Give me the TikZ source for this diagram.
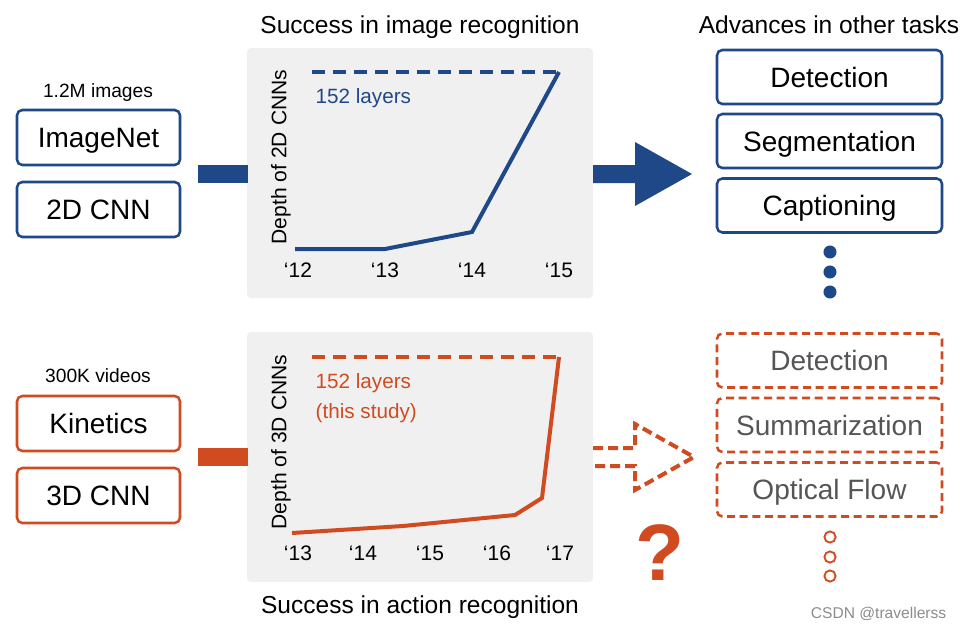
\documentclass[tikz,border=0pt]{standalone}
\usepackage{fontspec}
\setmainfont{Liberation Sans}
\definecolor{cblue}{RGB}{31,72,136}
\definecolor{corange}{RGB}{208,75,32}
\definecolor{panelgray}{RGB}{240,240,240}
\definecolor{graytext}{RGB}{85,85,85}
\begin{document}
\begin{tikzpicture}[x=0.75pt,y=-0.75pt,
  box/.style={draw, line width=1.9pt, rounded corners=4pt, minimum width=122.25pt, minimum height=41.25pt, inner sep=0pt, text height=15pt, text depth=0pt, font=\fontsize{21}{21}\selectfont},
  bluebox/.style={box, draw=cblue},
  orangebox/.style={box, draw=corange},
  taskbox/.style={box, draw=cblue, minimum width=168.75pt, minimum height=40.5pt},
  dtaskbox/.style={box, draw=corange, dash pattern=on 6pt off 3.5pt, text=graytext, minimum width=168.75pt, minimum height=40.5pt},
  panel/.style={fill=panelgray, rounded corners=3pt, minimum width=259.5pt, minimum height=187.5pt, inner sep=0pt},
  title/.style={anchor=base, font=\fontsize{18.4}{18.4}\selectfont},
  small/.style={anchor=base, font=\fontsize{14.4}{14.4}\selectfont},
  tick/.style={anchor=base, font=\fontsize{15.75}{15.75}\selectfont},
  lab/.style={anchor=base west, font=\fontsize{15.5}{15.5}\selectfont},
  ylab/.style={rotate=90, font=\fontsize{15.8}{15.8}\selectfont},
  curve/.style={line width=3pt, line join=miter},
  dline/.style={line width=3pt, dash pattern=on 9.75pt off 6pt}
]
\useasboundingbox (0,0) rectangle (967,629);

% panels
\node[panel] (p1) at (420,173) {};
\node[panel] (p2) at (420,457) {};

% titles
\node[title] (t1) at (420,33) {Success in image recognition};
\node[title] (t2) at (420,613) {Success in action recognition};
\node[title] (t3) at (829,33) {Advances in other tasks};

% left boxes
\node[small] (s1) at (98,97) {1.2M images};
\node[bluebox] (imagenet) at (98.5,137.5) {ImageNet};
\node[bluebox] (cnn2d) at (98.5,209.5) {2D CNN};
\node[small] (s2) at (98,382) {300K videos};
\node[orangebox] (kinetics) at (98.5,423.5) {Kinetics};
\node[orangebox] (cnn3d) at (98.5,495.5) {3D CNN};

% bars
\fill[cblue] (198,165) rectangle (248,183);
\fill[corange] (198,448) rectangle (248,466);

% chart 1
\draw[cblue, dline] (312,72) -- (560,72);
\draw[cblue, curve] (295,249) -- (385,249) -- (472,232) -- (559,72);
\node[lab, text=cblue] (l1) at (311,103) {152 layers};
\node[ylab] (y1) at (281,157) {Depth of 2D CNNs};
\node[tick] at (298,277) {‘12};
\node[tick] at (385,277) {‘13};
\node[tick] at (472,277) {‘14};
\node[tick] at (559,277) {‘15};

% chart 2
\draw[corange, dline] (312,357) -- (560,357);
\draw[corange, curve] (292,533) -- (403,526) -- (515,515) -- (542,498) -- (559,357);
\node[lab, text=corange] (l2) at (311,388) {152 layers};
\node[lab, text=corange] (l3) at (311,418) {(this study)};
\node[ylab] (y2) at (281,442) {Depth of 3D CNNs};
\node[tick] at (298,560) {‘13};
\node[tick] at (363,560) {‘14};
\node[tick] at (430,560) {‘15};
\node[tick] at (497,560) {‘16};
\node[tick] at (560,560) {‘17};

% right arrows
\fill[cblue] (593,165) -- (635,165) -- (635,142) -- (692,174) -- (635,206) -- (635,183) -- (593,183) -- cycle;
\draw[corange, line width=3pt, dash pattern=on 7.5pt off 3.75pt, line join=miter] (593,448) -- (635,448) -- (635,424) -- (694,457) -- (635,490) -- (635,466) -- (593,466);
\node[anchor=base, text=corange, font=\fontsize{60}{60}\selectfont\bfseries] (q) at (660,580) {?};

% right boxes
\node[taskbox] (det) at (829.5,77) {Detection};
\node[taskbox] (seg) at (829.5,141) {Segmentation};
\node[taskbox] (cap) at (829.5,205.5) {Captioning};
\foreach \yy in {252,272,292} \fill[cblue] (830,\yy) circle (4.9pt);

\node[dtaskbox] (ddet) at (829.5,360.5) {Detection};
\node[dtaskbox] (dsum) at (829.5,425) {Summarization};
\node[dtaskbox] (dopt) at (829.5,489.5) {Optical Flow};
\foreach \yy in {537,557,576} \draw[corange, line width=1.4pt] (830,\yy) circle (4.2pt);

% watermark
\node[anchor=base east, text=black!45, font=\fontsize{11.7}{11.7}\selectfont] (wm) at (951,618) {CSDN @travellerss};
\end{tikzpicture}
\end{document}
